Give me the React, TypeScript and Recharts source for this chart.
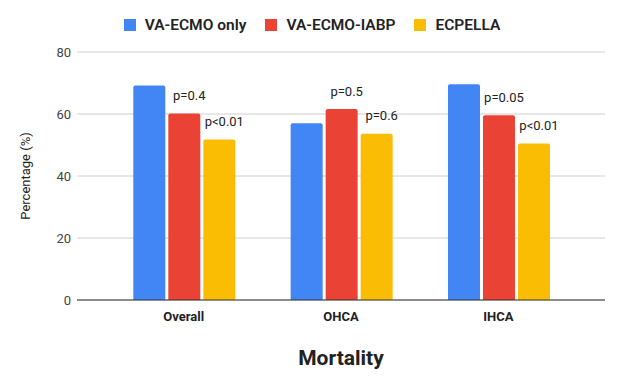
import React from "react";
import {
  Bar,
  BarChart,
  CartesianGrid,
  LabelList,
  XAxis,
  YAxis,
  Label,
} from "recharts";

const categories = ["Overall", "OHCA", "IHCA"];
const ecmoOnly = [69.2, 57, 69.6];
const ecmoIabp = [60.2, 61.6, 59.6];
const ecpella = [51.8, 53.6, 50.5];
const iabpPValues = ["p=0.4", "p=0.5", "p=0.05"];
const ecpellaPValues = ["p<0.01", "p=0.6", "p<0.01"];
const yTicks = [0, 20, 40, 60, 80];

const series = [
  { key: "ecmoOnly", name: "VA-ECMO only", color: "#4285F4" },
  { key: "ecmoIabp", name: "VA-ECMO-IABP", color: "#EA4335" },
  { key: "ecpella", name: "ECPELLA", color: "#FBBC04" },
];

const data = categories.map((c, i) => ({
  category: c,
  ecmoOnly: ecmoOnly[i],
  ecmoIabp: ecmoIabp[i],
  ecpella: ecpella[i],
  iabpP: iabpPValues[i],
  ecpellaP: ecpellaPValues[i],
}));

const FONT = "Roboto, 'Noto Sans', Arial, sans-serif";

// p-value text sits just above the bar, nudged a little to the right
const PLabel = (props: any) => {
  const { x, y, width, value } = props;
  return (
    <text
      x={x + width / 2 + 5}
      y={y - 18}
      textAnchor="middle"
      dominantBaseline="central"
      fontSize={13}
      fontFamily={FONT}
      fill="#222"
    >
      {value}
    </text>
  );
};

const LegendRow = () => (
  <div
    style={{
      position: "absolute",
      top: 16,
      left: 0,
      width: 624,
      display: "flex",
      justifyContent: "center",
      gap: 19,
      fontFamily: FONT,
      fontSize: 15.5,
      fontWeight: 600,
      color: "#222",
    }}
  >
    {series.map((s) => (
      <div key={s.key} style={{ display: "flex", alignItems: "center" }}>
        <span
          style={{
            width: 12,
            height: 12,
            background: s.color,
            display: "inline-block",
            marginRight: 9,
          }}
        />
        <span>{s.name}</span>
      </div>
    ))}
  </div>
);

export default function App() {
  return (
    <div
      style={{
        position: "absolute",
        left: 0,
        top: 0,
        width: 624,
        height: 386,
        background: "#fff",
      }}
    >
      <LegendRow />
      <BarChart
        width={624}
        height={386}
        data={data}
        margin={{ top: 52, right: 19, bottom: 56, left: 0 }}
        barCategoryGap="18%"
        barGap={3}
      >
        <CartesianGrid vertical={false} stroke="#d0d0d0" />
        <XAxis
          dataKey="category"
          padding={{ left: 28, right: 28 }}
          axisLine={{ stroke: "#333" }}
          tickLine={false}
          tickMargin={6}
          height={30}
          tick={{
            fontSize: 13,
            fontWeight: 700,
            fill: "#222",
            fontFamily: FONT,
          }}
        >
          <Label
            value="Mortality"
            position="bottom"
            offset={20}
            style={{
              fontSize: 21,
              fontWeight: 700,
              fill: "#222",
              fontFamily: FONT,
            }}
          />
        </XAxis>
        <YAxis
          width={77}
          domain={[0, 80]}
          ticks={yTicks}
          axisLine={false}
          tickLine={false}
          tickSize={0}
          tickMargin={6}
          tick={{ fontSize: 13, fill: "#444", fontFamily: FONT }}
        >
          <Label
            value="Percentage (%)"
            angle={-90}
            position="insideLeft"
            offset={25}
            style={{
              textAnchor: "middle",
              fontSize: 13,
              fill: "#222",
              fontFamily: FONT,
            }}
          />
        </YAxis>
        <Bar
          dataKey="ecmoOnly"
          name="VA-ECMO only"
          fill="#4285F4"
          radius={[2, 2, 0, 0]}
          isAnimationActive={false}
        />
        <Bar
          dataKey="ecmoIabp"
          name="VA-ECMO-IABP"
          fill="#EA4335"
          radius={[2, 2, 0, 0]}
          isAnimationActive={false}
        >
          <LabelList dataKey="iabpP" content={PLabel} />
        </Bar>
        <Bar
          dataKey="ecpella"
          name="ECPELLA"
          fill="#FBBC04"
          radius={[2, 2, 0, 0]}
          isAnimationActive={false}
        >
          <LabelList dataKey="ecpellaP" content={PLabel} />
        </Bar>
      </BarChart>
    </div>
  );
}
